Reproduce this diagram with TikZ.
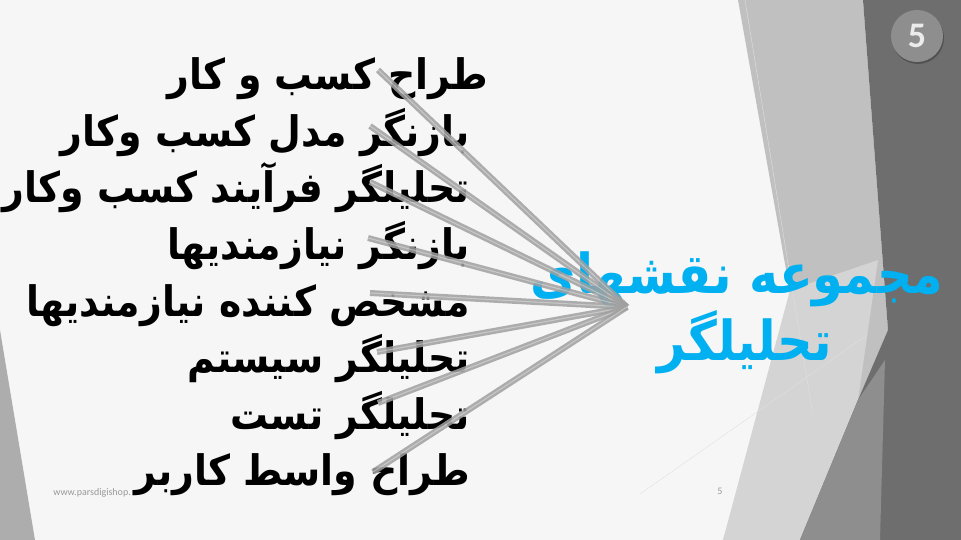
\documentclass[tikz,border=0pt]{standalone}
\usepackage{fontspec}
\setmainfont{Carlito}
\newfontfamily\arabicfont[Script=Arabic]{DejaVu Sans Condensed}
\TeXXeTstate=1
\usetikzlibrary{positioning}

\definecolor{slidebg}{RGB}{246,246,246}
\definecolor{facetdark}{RGB}{110,110,110}
\definecolor{facetmid}{RGB}{142,142,142}
\definecolor{facetlight}{RGB}{192,192,192}
\definecolor{facetpale}{RGB}{212,212,212}
\definecolor{titleblue}{RGB}{0,176,240}
\definecolor{spokegray}{RGB}{160,160,160}

\tikzset{
  role/.style={anchor=base east, inner sep=0pt, font=\arabicfont\bfseries\fontsize{42}{48}\selectfont},
  titletext/.style={anchor=base, inner sep=0pt, text=titleblue, font=\arabicfont\bfseries\fontsize{55}{60}\selectfont},
  spoke/.style={draw=spokegray, line width=6pt, opacity=0.85,
    postaction={draw=white, line width=1pt, opacity=0.35}},
  footer/.style={inner sep=0pt, text=black!40, font=\fontsize{10}{12}\selectfont}
}

\begin{document}
\begin{tikzpicture}[x=1pt, y=-1pt]
  \useasboundingbox (0,0) rectangle (961,540);

  % Background and facets:
  \fill[slidebg] (0,0) rectangle (961,540);
  \fill[facetlight] (738,0) -- (863,0) -- (888,330) -- (800,540) -- (723,540) -- (795,320) -- cycle;
  \fill[facetpale] (790,290) -- (878,260) -- (858,400) -- (800,540) -- (723,540) -- cycle;
  \fill[facetdark] (863,0) -- (961,0) -- (961,540) -- (800,540) -- (858,400) -- (888,330) -- cycle;
  \fill[facetmid] (885,360) -- (858,400) -- (800,540) -- (880,540) -- cycle;
  \fill[black!32] (0,330) -- (35,540) -- (0,540) -- cycle;
  \draw[black!12, thin] (745,0) -- (812,410);
  \draw[black!12, thin] (640,494) -- (867,335);

  % Slide number:
  \fill[black, opacity=0.25] (918,38) circle (26);
  \node[circle, fill=facetmid, minimum size=52pt, inner sep=0pt, text=black!8,
    font=\bfseries\fontsize{36}{36}\selectfont] (num) at (917,36) {5};

  % Footer:
  \node[footer, anchor=base east] (site) at (131,495) {www.parsdigishop.};
  \node[footer, anchor=base] (page) at (720,494) {5};

  % Roles:
  \node[role] (r1) at (488,90) {\beginR طراح کسب و کار\endR};
  \node[role] (r2) at (470,146.5) {\beginR بازنگر مدل کسب وکار\endR};
  \node[role] (r3) at (470,203) {\beginR تحلیلگر فرآیند کسب وکار\endR};
  \node[role] (r4) at (470,259.5) {\beginR بازنگر نیازمندیها\endR};
  \node[role] (r5) at (470,316) {\beginR مشخص کننده نیازمندیها\endR};
  \node[role] (r6) at (470,372.5) {\beginR تحلیلگر سیستم\endR};
  \node[role] (r7) at (470,429) {\beginR تحلیلگر تست\endR};
  \node[role] (r8) at (470,485.5) {\beginR طراح واسط کاربر\endR};

  % Title:
  \node[titletext] (title1) at (737,293) {\beginR مجموعه نقشهای\endR};
  \node[titletext] (title2) at (745,360) {\beginR تحلیلگر\endR};

  % Spokes:
  \coordinate (hub) at (627,307);
  \foreach \i/\x/\y in {1/378/70, 2/370/126, 3/370/182, 4/368/238,
                        5/370/293, 6/377/352, 7/378/403, 8/373/472} {
    \coordinate (e\i) at (\x,\y);
    \draw[spoke] (hub) -- (e\i);
  }
\end{tikzpicture}
\end{document}
